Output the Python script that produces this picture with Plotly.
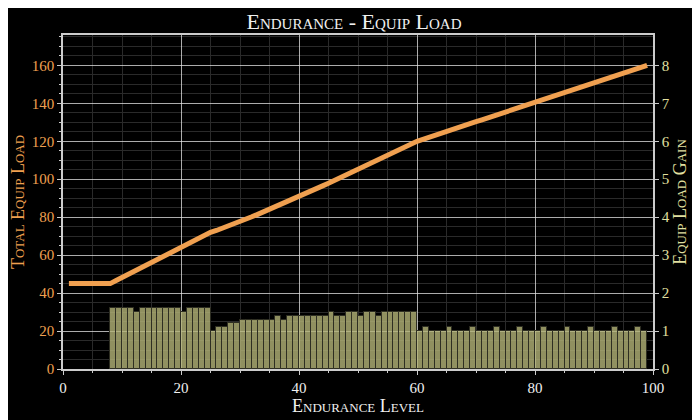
import plotly.graph_objects as go

# Endurance level vs total equip load
levels = list(range(1, 100))
equip_load = [
    45.0, 45.0, 45.0, 45.0, 45.0, 45.0, 45.0, 45.0,
    46.6, 48.2, 49.8, 51.4, 52.9, 54.5, 56.1, 57.7, 59.3, 60.9,
    62.5, 64.1, 65.6, 67.2, 68.8, 70.4, 72.0,
    73.0, 74.1, 75.2, 76.4, 77.6, 78.9, 80.2, 81.5, 82.8, 84.1,
    85.4, 86.8, 88.1, 89.5, 90.9, 92.3, 93.7, 95.1, 96.5, 97.9,
    99.4, 100.8, 102.2, 103.7, 105.2, 106.6, 108.1, 109.6, 111.0, 112.5,
    114.0, 115.5, 117.0, 118.5, 120.0,
    121.0, 122.1, 123.1, 124.1, 125.1, 126.2, 127.2, 128.2, 129.2, 130.3,
    131.3, 132.3, 133.3, 134.4, 135.4, 136.4, 137.4, 138.5, 139.5, 140.5,
    141.5, 142.6, 143.6, 144.6, 145.6, 146.7, 147.7, 148.7, 149.7, 150.8,
    151.8, 152.8, 153.8, 154.9, 155.9, 156.9, 157.9, 159.0, 160.0,
]

# gain from level n to n+1, bars start at n
gain_levels = list(range(8, 99))
gains = [
    1.6, 1.6, 1.6, 1.6, 1.5, 1.6, 1.6, 1.6, 1.6, 1.6, 1.6, 1.6, 1.5, 1.6, 1.6, 1.6, 1.6,
    1.0, 1.1, 1.1, 1.2, 1.2, 1.3, 1.3, 1.3, 1.3, 1.3, 1.3, 1.4, 1.3, 1.4, 1.4, 1.4, 1.4,
    1.4, 1.4, 1.4, 1.5, 1.4, 1.4, 1.5, 1.5, 1.4, 1.5, 1.5, 1.4, 1.5, 1.5, 1.5, 1.5, 1.5, 1.5,
    1.0, 1.1, 1.0, 1.0, 1.0, 1.1, 1.0, 1.0, 1.0, 1.1, 1.0, 1.0, 1.0, 1.1, 1.0, 1.0, 1.0,
    1.1, 1.0, 1.0, 1.0, 1.1, 1.0, 1.0, 1.0, 1.1, 1.0, 1.0, 1.0, 1.1, 1.0, 1.0, 1.0, 1.1,
    1.0, 1.0, 1.0, 1.1, 1.0,
]

FONT = "Liberation Serif"
ORANGE = "#f0a050"
KHAKI = "#e2e0a0"
GRID = "rgba(230,230,230,0.75)"
MINOR = "#2a2a2a"

fig = go.Figure()
fig.add_trace(go.Bar(
    x=gain_levels, y=gains, yaxis="y2", offset=0, width=1,
    marker=dict(color="rgba(180,180,120,0.8)", line=dict(color="#2e2e22", width=1)),
    showlegend=False,
))
fig.add_trace(go.Scatter(
    x=levels, y=equip_load, mode="lines",
    line=dict(color=ORANGE, width=5), showlegend=False,
))

# page body adds an 8px offset, so the figure is a bit smaller than the window
fig.update_layout(
    width=692, height=412,
    paper_bgcolor="black", plot_bgcolor="black",
    margin=dict(l=55, r=47, t=27, b=51),
    font=dict(family=FONT, color="#e8e8e8"),
    bargap=0,
    title=dict(text="Endurance - Equip Load", x=0.5, xanchor="center",
               yref="container", y=1 - 13 / 412, yanchor="middle",
               font=dict(family=FONT, size=22, color="#f0f0f0", variant="small-caps")),
    xaxis=dict(
        range=[0, 100], dtick=20, tick0=0, automargin=False,
        showgrid=True, gridcolor=GRID, gridwidth=1,
        ticks="outside", ticklen=4, tickcolor="#cccccc",
        showline=True, linecolor="#cccccc", linewidth=1.5, mirror=True,
        zeroline=False,
        tickfont=dict(size=15, color="#f0f0f0"),
        minor=dict(dtick=5, showgrid=True, gridcolor=MINOR, ticks="outside", ticklen=2, tickcolor="#cccccc"),
        title=dict(text="Endurance Level", standoff=0,
                   font=dict(size=18, color="#f0f0f0", variant="small-caps")),
    ),
    yaxis=dict(
        range=[0, 176], dtick=20, tick0=0, automargin=False,
        showgrid=True, gridcolor=GRID, gridwidth=1,
        ticks="outside", ticklen=4, tickcolor="#cccccc",
        showline=True, linecolor="#cccccc", linewidth=1.5,
        zeroline=False,
        tickfont=dict(size=15, color=ORANGE),
        minor=dict(dtick=5, showgrid=True, gridcolor=MINOR, ticks="outside", ticklen=2, tickcolor="#cccccc"),
        title=dict(text="Total Equip Load", standoff=4,
                   font=dict(size=18, color=ORANGE, variant="small-caps")),
    ),
    yaxis2=dict(
        range=[0, 8.8], dtick=1, tick0=0, automargin=False,
        overlaying="y", side="right", showgrid=False,
        ticks="outside", ticklen=4, tickcolor="#cccccc",
        showline=True, linecolor="#cccccc", linewidth=1.5,
        zeroline=False,
        tickfont=dict(size=15, color=KHAKI),
        title=dict(text="Equip Load Gain", standoff=4,
                   font=dict(size=18, color=KHAKI, variant="small-caps")),
    ),
)

fig.write_html("out.html")
